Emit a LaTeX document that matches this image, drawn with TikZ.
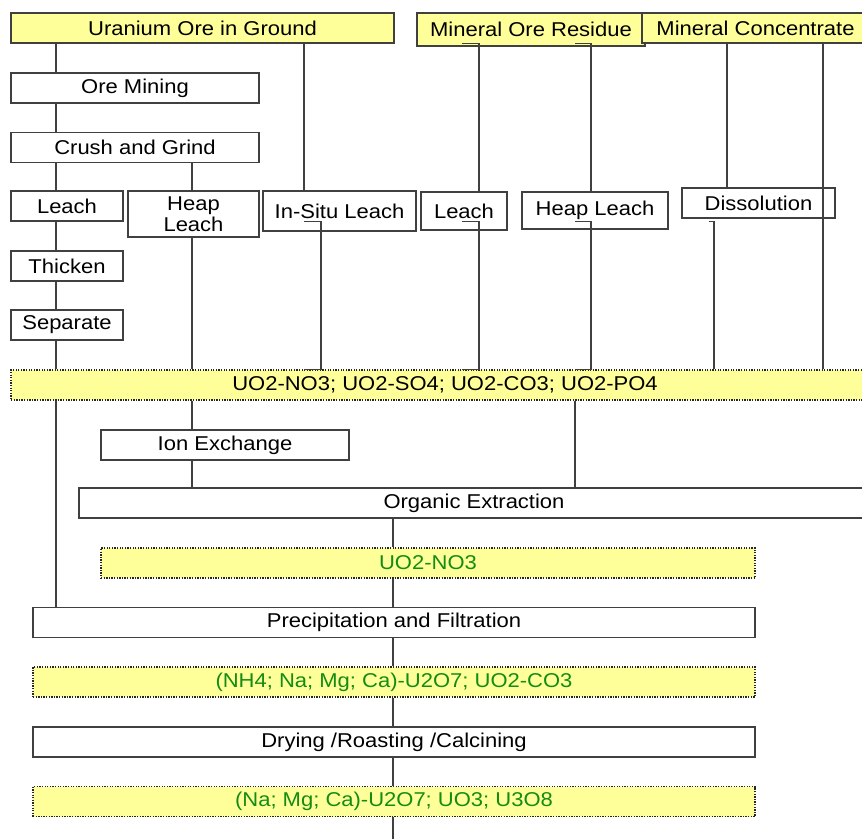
\documentclass[tikz,border=0pt]{standalone}
\usepackage{fontspec}
\setmainfont{Liberation Sans}[FakeStretch=1.1]
\usepackage{tikz}
\definecolor{oreyellow}{RGB}{255,255,153}
\definecolor{solgreen}{RGB}{20,140,20}
\definecolor{wiregray}{RGB}{64,64,64}
\tikzset{
  stage/.style={draw=wiregray, line width=1.3pt, fill=white, inner sep=0pt,
    minimum height=30pt, align=center, font=\fontsize{20}{21}\selectfont},
  source/.style={stage, fill=oreyellow},
  solution/.style={stage, fill=oreyellow, draw=black!85, line width=1.3pt, dash pattern=on 1.3pt off 1.3pt},
  link/.style={draw=wiregray, line width=1.2pt}
}

\begin{document}
\begin{tikzpicture}[x=1pt,y=-1pt]
\clip (0,0) rectangle (862,839);
\fill[white] (0,0) rectangle (862,839);
% sources
\node[source, minimum width=383pt] (ore) at (202.5,28) {Uranium Ore in Ground};
\node[source, minimum width=228pt, minimum height=33pt] (resid) at (531,29.5) {Mineral Ore Residue};
\node[source, minimum width=227pt] (conc) at (755.5,28) {Mineral Concentrate};
% ore processing
\node[stage, minimum width=248pt] (mining) at (135,88) {Ore Mining};
\node[stage, minimum width=248pt] (crush) at (135,147.5) {Crush and Grind};
\node[stage, minimum width=112pt] (leachA) at (67,206) {Leach};
\node[stage, minimum width=131pt, minimum height=46pt] (heapA) at (193.5,214) {Heap\\Leach};
\node[stage, minimum width=153pt, minimum height=40pt] (insitu) at (339.5,211) {In-Situ Leach};
\node[stage, minimum width=86pt, minimum height=38pt] (leachB) at (464,211) {Leach};
\node[stage, minimum width=146pt, minimum height=37pt] (heapB) at (595,210.5) {Heap Leach};
\node[stage, minimum width=153pt] (dissol) at (758.5,203) {Dissolution};
\node[stage, minimum width=112pt] (thicken) at (67,266) {Thicken};
\node[stage, minimum width=112pt] (separate) at (67,325) {Separate};
% solutions and later stages
\node[solution, minimum width=868pt] (solA) at (445,385) {UO2-NO3; UO2-SO4; UO2-CO3; UO2-PO4};
\node[stage, minimum width=248pt] (ionex) at (225,445) {Ion Exchange};
\node[stage, minimum width=790pt] (orgex) at (474,503) {Organic Extraction};
\node[solution, minimum width=654pt, text=solgreen] (solB) at (428,563) {UO2-NO3};
\node[stage, minimum width=722pt] (precip) at (394,622.5) {Precipitation and Filtration};
\node[solution, minimum width=722pt, text=solgreen] (solC) at (394,682) {(NH4; Na; Mg; Ca)-U2O7; UO2-CO3};
\node[stage, minimum width=722pt] (dry) at (394,742) {Drying /Roasting /Calcining};
\node[solution, minimum width=722pt, text=solgreen] (solD) at (394,801.5) {(Na; Mg; Ca)-U2O7; UO3; U3O8};
% wire columns
\coordinate (cA) at (56,0);
\coordinate (cB) at (192,0);
\coordinate (cC) at (304,0);
\coordinate (cD) at (321,0);
\coordinate (cE) at (325,0);
\coordinate (rA) at (462,0);
\coordinate (rB) at (479,0);
\coordinate (hA) at (575,0);
\coordinate (hB) at (591,0);
\coordinate (dA) at (710,0);
\coordinate (dB) at (727,0);
\coordinate (dC) at (709,0);
\coordinate (dD) at (714,0);
\coordinate (kA) at (823,0);
\coordinate (cM) at (393,0);
\coordinate (outflow) at (393,839);
% conventional mining line
\draw[link] (ore.south -| cA) -- (mining.north -| cA);
\draw[link] (mining.south -| cA) -- (crush.north -| cA);
\draw[link] (crush.south -| cA) -- (leachA.north -| cA);
\draw[link] (leachA.south -| cA) -- (thicken.north -| cA);
\draw[link] (thicken.south -| cA) -- (separate.north -| cA);
\draw[link] (separate.south -| cA) -- (solA.north -| cA);
\draw[link] (solA.south -| cA) -- (precip.north -| cA);
% heap leach line
\draw[link] (crush.south -| cB) -- (heapA.north -| cB);
\draw[link] (heapA.south -| cB) -- (solA.north -| cB);
\draw[link] (solA.south -| cB) -- (ionex.north -| cB);
\draw[link] (ionex.south -| cB) -- (orgex.north -| cB);
% in-situ line
\draw[link] (ore.south -| cC) -- (insitu.north -| cC) -- (insitu.north -| cE);
\draw[link] ([yshift=10pt]insitu.south -| cC) -| (solA.north -| cD) -- (solA.north -| cC);
% residue lines
\draw[link] ([yshift=3pt]resid.south -| rA) -| (leachB.north -| rB) -- (leachB.north -| rA);
\draw[link] ([yshift=9pt]leachB.south -| rA) -| (solA.north -| rB) -- (solA.north -| rA);
\draw[link] ([yshift=3pt]resid.south -| hA) -| (heapB.north -| hB) -- (heapB.north -| hA);
\draw[link] ([yshift=8pt]heapB.south -| hA) -| (solA.north -| hB) -- (solA.north -| hA);
% concentrate lines
\draw[link] (conc.south -| dA) -| (dissol.north -| dB);
\draw[link] ([yshift=-3pt]dissol.south -| dC) -| (solA.north -| dD);
\draw[link] (conc.south -| kA) -- (solA.north -| kA);
% extraction and product line
\draw[link] (solA.south -| hA) -- (orgex.north -| hA);
\draw[link] (orgex.south -| cM) -- (solB.north -| cM);
\draw[link] (solB.south -| cM) -- (precip.north -| cM);
\draw[link] (precip.south -| cM) -- (solC.north -| cM);
\draw[link] (solC.south -| cM) -- (dry.north -| cM);
\draw[link] (dry.south -| cM) -- (solD.north -| cM);
\draw[link] (solD.south -| cM) -- (outflow);
\end{tikzpicture}
\end{document}
